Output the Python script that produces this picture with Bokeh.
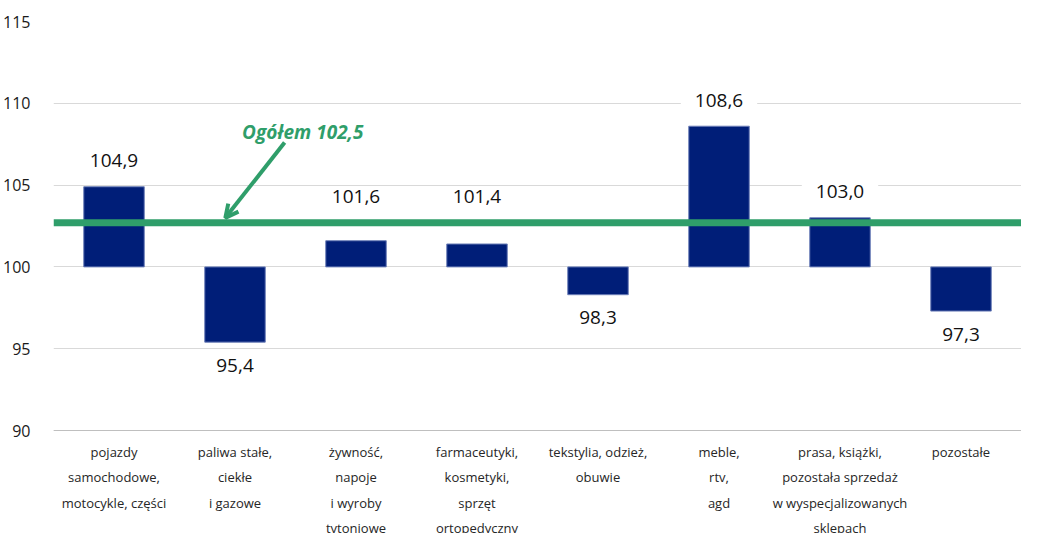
from bokeh.plotting import figure
from bokeh.models import (FactorRange, FixedTicker, Span, Arrow, OpenHead, Label,
                          ColumnDataSource)
from bokeh.core.properties import value
from bokeh.embed import file_html
from bokeh.resources import INLINE

categories = [
    "pojazdy\nsamochodowe,\nmotocykle, części",
    "paliwa stałe,\nciekłe\ni gazowe",
    "żywność,\nnapoje\ni wyroby\ntytoniowe",
    "farmaceutyki,\nkosmetyki,\nsprzęt\nortopedyczny",
    "tekstylia, odzież,\nobuwie",
    "meble,\nrtv,\nagd",
    "prasa, książki,\npozostała sprzedaż\nw wyspecjalizowanych\nsklepach",
    "pozostałe",
]
values = [104.9, 95.4, 101.6, 101.4, 98.3, 108.6, 103.0, 97.3]
total_value = 102.5
total_line_level = 102.7
y_ticks = [90, 95, 100, 105, 110, 115]
base = 100

FONT = "Open Sans"
NAVY = "#001e78"
GREEN = "#2f9e6a"

px_per_unit = 409 / 25.0
H = 533
TOP = 21
frame_h = H - TOP
y_start = 115 - frame_h / px_per_unit

p = figure(x_range=FactorRange(factors=categories, range_padding=0),
           y_range=(y_start, 115), width=1021, height=H,
           output_backend="svg", toolbar_location=None,
           min_border_left=46, min_border_right=0, min_border_top=TOP,
           min_border_bottom=0)
p.outline_line_color = None
p.xgrid.grid_line_color = None
p.ygrid.grid_line_color = "#d9d9d9"
p.ygrid.grid_line_width = 1
p.yaxis.ticker = FixedTicker(ticks=y_ticks)
p.yaxis.axis_line_color = None
p.yaxis.major_tick_line_color = None
p.yaxis.minor_tick_line_color = None
p.yaxis.major_label_text_font = FONT
p.yaxis.major_label_text_font_size = "16px"
p.yaxis.major_label_text_color = "#1a1a1a"
p.yaxis.major_label_standoff = 17
p.xaxis.visible = False

# baseline of the category axis
p.add_layout(Span(location=y_ticks[0], dimension="width",
                  line_color="#bfbfbf", line_width=1))

# bars
src = ColumnDataSource(dict(cat=categories, top=values,
                            bottom=[base] * len(values)))
p.vbar(x="cat", top="top", bottom="bottom", width=0.5, source=src,
       fill_color=NAVY, line_color="#6c7fb8", line_width=1)

# value labels
label_y = []
for v in values:
    if v >= base:
        label_y.append((total_line_level if v < total_line_level else v) + 26 / px_per_unit)
    else:
        label_y.append(v - 23 / px_per_unit)
label_txt = [f"{v:.1f}".replace(".", ",") for v in values]
lsrc = ColumnDataSource(dict(cat=categories, y=label_y, t=label_txt))
p.text(x="cat", y="y", text="t", source=lsrc, text_align="center",
       text_baseline="middle", text_font_size="19px", text_color="#111111",
       text_font=value(FONT), background_fill_color="white",
       padding=(14, 2))

# total line
p.add_layout(Span(location=total_line_level, dimension="width",
                  line_color=GREEN, line_width=7))

# category labels (multi-line, wide spacing)
cx, cy, ct = [], [], []
for c in categories:
    for i, line in enumerate(c.split("\n")):
        cx.append(c)
        cy.append(y_ticks[0] - (21 + i * 25.6) / px_per_unit)
        ct.append(line)
csrc = ColumnDataSource(dict(x=cx, y=cy, t=ct))
p.text(x="x", y="y", text="t", source=csrc, text_align="center",
       text_baseline="middle", text_font_size="13px",
       text_font=value(FONT), text_color="#262626")

# annotation
p.add_layout(Arrow(end=OpenHead(line_color=GREEN, line_width=4, size=13),
                   x_start=1.91, y_start=107.6, x_end=1.42,
                   y_end=total_line_level + 0.3,
                   line_color=GREEN, line_width=4))
p.add_layout(Label(x=2.06, y=108.25, text=f"Ogółem {total_value:.1f}".replace(".", ","),
                   text_align="center", text_baseline="middle",
                   text_font=FONT, text_font_size="19px",
                   text_font_style="bold italic", text_color=GREEN))

open("out.html", "w").write(file_html(p, INLINE))
